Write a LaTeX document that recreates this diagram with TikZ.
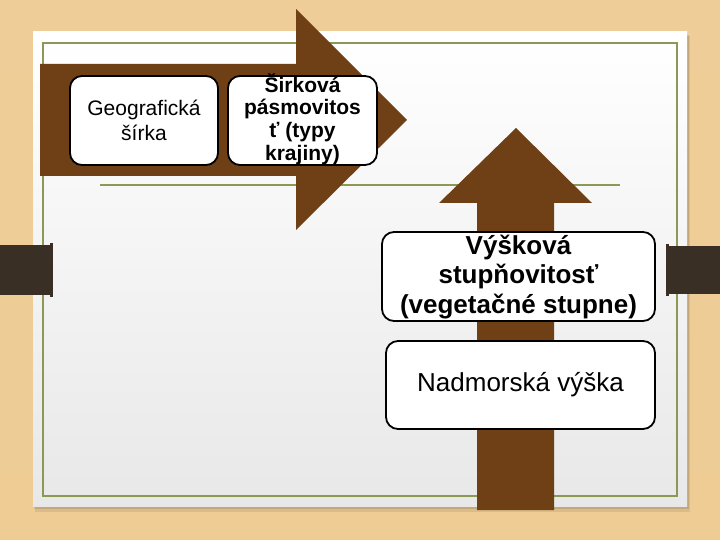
\documentclass[tikz,border=0pt]{standalone}
\usepackage{fontspec}
\setmainfont{Liberation Sans}
\usetikzlibrary{shadows}
\definecolor{wood}{RGB}{236,199,142}
\definecolor{brownarrow}{RGB}{111,63,22}
\definecolor{olive}{RGB}{138,154,84}
\definecolor{tabdark}{RGB}{58,47,37}
\definecolor{papergrey}{RGB}{232,232,232}
\tikzset{
  box/.style={draw=black, line width=1.8pt, fill=white, rounded corners=12pt, inner sep=0pt},
  boxtext/.style={align=center, inner sep=0pt, text=black},
  arrowfill/.style={fill=brownarrow, draw=none},
  tabfill/.style={fill=tabdark, draw=none},
}
\begin{document}
\begin{tikzpicture}[x=1pt, y=-1pt]
\useasboundingbox (0,0) rectangle (720,540);
% wood background
\fill[wood] (0,0) rectangle (720,540);
\shade[top color={rgb,255:red,238;green,205;blue,152}, bottom color={rgb,255:red,238;green,204;blue,148}] (0,0) rectangle (720,540);
% paper shadow
\fill[black, opacity=0.08] (35,36) rectangle (690,512);
\fill[black, opacity=0.10] (34,35) rectangle (689,509);
% paper
\shade[top color=white, bottom color=papergrey] (33,32) rectangle (687,506);
% green frame and rule
\draw[olive, line width=2pt] (43,43) rectangle (677,496);
\draw[olive, line width=2pt] (100,185) -- (620,185);
% right arrow
\fill[arrowfill] (40,64) -- (296,64) -- (296,9) -- (407,120) -- (296,230) -- (296,176) -- (40,176) -- cycle;
% up arrow
\fill[arrowfill] (477,510) -- (477,203) -- (439,203) -- (516,128) -- (592,203) -- (554,203) -- (554,510) -- cycle;
% tabs
\fill[tabfill] (0,245) rectangle (52,295);
\fill[tabfill] (50,243) rectangle (53,297);
\fill[tabfill] (668,246) rectangle (720,294);
\fill[tabfill] (666,244) rectangle (669,296);
% boxes
\node[box, minimum width=148pt, minimum height=89pt] (geo) at (144,120.5) {};
\node[boxtext, font=\fontsize{21}{25}\selectfont] (geot) at (geo.center) {Geografická\\šírka};
\node[box, minimum width=149pt, minimum height=89pt] (sir) at (302.5,120.5) {};
\node[boxtext, font=\fontsize{21}{22.7}\selectfont\bfseries] (sirt) at (302.5,119) {Širková\\pásmovitos\\ť (typy\\krajiny)};
\node[box, minimum width=273pt, minimum height=89pt] (vys) at (518.5,276.5) {};
\node[boxtext, font=\fontsize{26}{29.5}\selectfont\bfseries] (vyst) at (518.5,277) {Výšková\\stupňovitosť\\(vegetačné stupne)};
\node[box, minimum width=269pt, minimum height=88pt] (nad) at (520.5,385) {};
\node[boxtext, font=\fontsize{26}{30}\selectfont] (nadt) at (nad.center) {Nadmorská výška};
\end{tikzpicture}
\end{document}
